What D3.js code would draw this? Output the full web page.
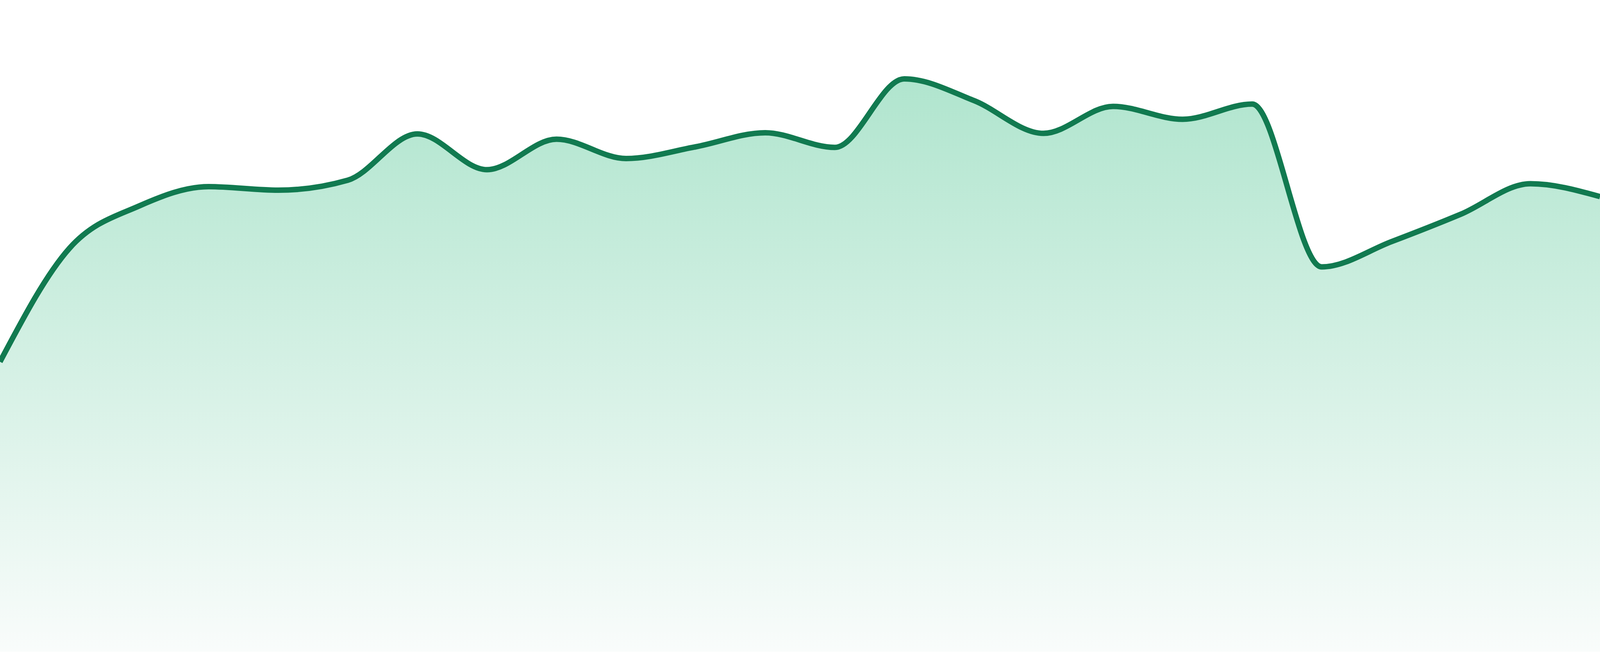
<!DOCTYPE html>
<html>
<head>
<meta charset="utf-8">
<script src="https://cdn.jsdelivr.net/npm/d3@7"></script>
<style>
html,body{margin:0;padding:0;background:#ffffff;overflow:hidden;}
svg{display:block;}
</style>
</head>
<body>
<div id="chart"></div>
<script>
const categories = d3.range(24).map(i => "P" + (i + 1));
const values = [49.5, 68.9, 76.1, 79.4, 78.8, 80.5, 88.4, 82.3, 87.5, 84.2, 86.2, 88.6,
                86.1, 97.8, 94.1, 88.5, 93.1, 90.9, 93.5, 65.7, 70.0, 74.7, 79.9, 77.7];

const W = window.innerWidth || 4800;
const H = window.innerHeight || 1680;
const margin = {top: H * 169 / 1680, right: 0, bottom: H * 11 / 1680, left: 0};

const svg = d3.select("#chart").append("svg")
  .attr("width", W).attr("height", H);

const x = d3.scalePoint().domain(categories).range([margin.left, W - margin.right]);
const y = d3.scaleLinear().domain([0, 100]).range([H - margin.bottom, margin.top]);

const data = categories.map((c, i) => ({c, v: values[i]}));

const defs = svg.append("defs");
const grad = defs.append("linearGradient")
  .attr("id", "fillGrad").attr("x1", 0).attr("y1", 0).attr("x2", 0).attr("y2", 1);
grad.append("stop").attr("offset", "0%").attr("stop-color", "#b0e5ce");
grad.append("stop").attr("offset", "100%").attr("stop-color", "#f9fcfb");

const area = d3.area()
  .x(d => x(d.c)).y0(y(0)).y1(d => y(d.v))
  .curve(d3.curveMonotoneX);

const line = d3.line()
  .x(d => x(d.c)).y(d => y(d.v))
  .curve(d3.curveMonotoneX);

svg.append("path").datum(data)
  .attr("d", area)
  .attr("fill", "url(#fillGrad)");

svg.append("path").datum(data)
  .attr("d", line)
  .attr("fill", "none")
  .attr("stroke", "#117a50")
  .attr("stroke-width", 14)
  .attr("stroke-linejoin", "round")
  .attr("stroke-linecap", "butt");
</script>
</body>
</html>
